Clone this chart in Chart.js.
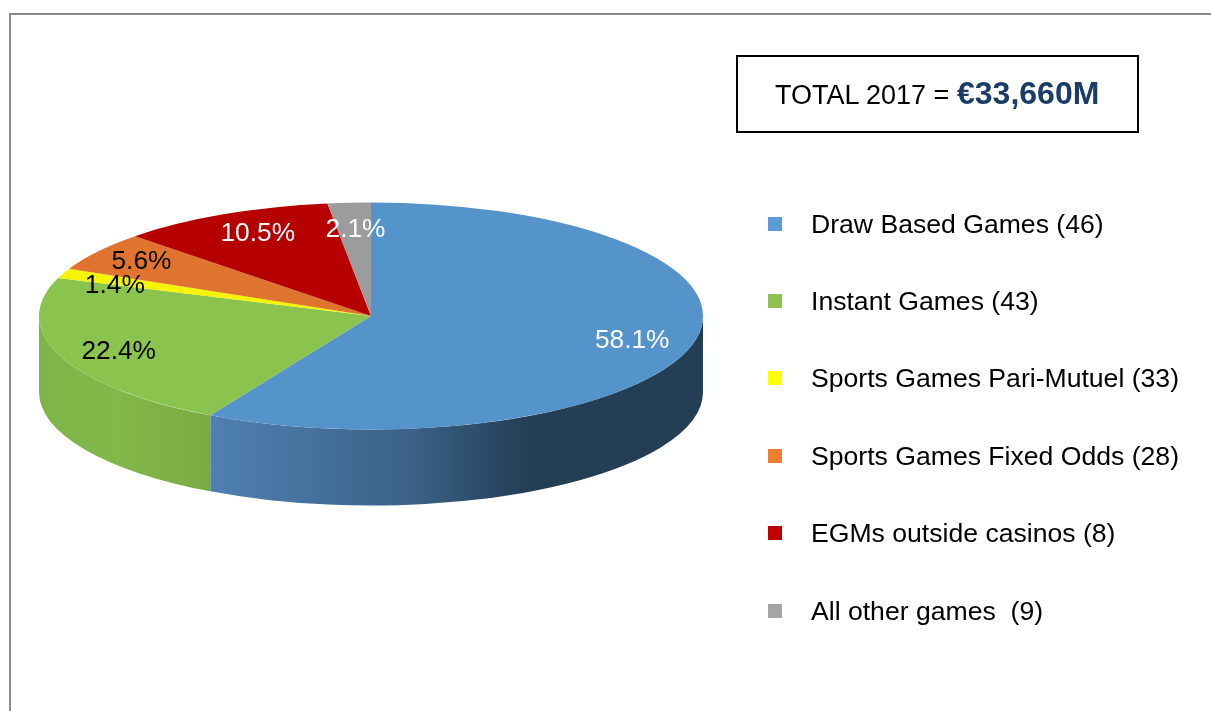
<!DOCTYPE html>
<html>
<head>
<meta charset="utf-8">
<title>Total 2017</title>
<script src="https://cdn.jsdelivr.net/npm/chart.js@4"></script>
<style>
  html, body { margin: 0; padding: 0; background: #fff; overflow: hidden; }
  body { width: 1211px; height: 711px; position: relative; font-family: "Liberation Sans", Arial, sans-serif; color: #000; }
  #chart { position: absolute; left: 0; top: 0; }
  #frame { position: absolute; left: 9px; top: 13px; width: 1300px; height: 800px; border: 2px solid #8a8a8a; }
  #total { position: absolute; left: 736px; top: 55px; width: 399px; height: 74px; border: 2px solid #000; line-height: 74px; white-space: pre; }
  #total span { position: absolute; }
  #total .sum { left: 37px; top: 1px; font-size: 27px; }
  #total .amount { left: 219px; top: -1px; font-size: 32px; font-weight: bold; color: #1a3c66; }
  .row { position: absolute; left: 768px; height: 30px; line-height: 30px; font-size: 26.6px; white-space: pre; }
  .row i { position: absolute; left: 0; top: 8px; width: 14px; height: 14px; }
  .row span { position: absolute; left: 43px; }
</style>
</head>
<body>
<div id="frame"></div>
<canvas id="chart" width="1211" height="711"></canvas>
<div id="total"><span class="sum">TOTAL 2017 =</span><span class="amount">€33,660M</span></div>
<div id="legend"></div>
<script>
let categories = [
  "Draw Based Games (46)",
  "Instant Games (43)",
  "Sports Games Pari-Mutuel (33)",
  "Sports Games Fixed Odds (28)",
  "EGMs outside casinos (8)",
  "All other games  (9)",
];
let shares = [58.1, 22.4, 1.4, 5.6, 10.5, 2.1];

let faceColors = ["#5593cb", "#8ac44f", "#f5f500", "#e0742f", "#b60000", "#9c9c9c"];
let legendColors = ["#5b9bd5", "#8cc34f", "#ffff00", "#ed7d31", "#c00000", "#a5a5a5"];
let labelColors = ["#fff", "#000", "#000", "#000", "#fff", "#fff"];
let legendRows = [224, 301, 378, 456, 533, 611];

// hand placement of the percent labels, like the original chart has
let labelNudgeX = [4, -4, -10, -11, 5, 2];
let labelNudgeY = [1, 3, 3, -4, -2, 3];

// side wall shading, only the two front slices show it
let wallStops = [
  [[0.2545, "#4f80b2"], [0.55, "#3c6389"], [0.74, "#233e55"], [1, "#233e55"]],
  [[0, "#7eb548"], [0.12, "#83b84a"], [0.2545, "#79ab42"]],
];

const squash = 0.342;
const depth = 76;
const centerY = 316;

function tilt(ctx, el) {
  ctx.translate(0, centerY);
  ctx.scale(1, squash);
  ctx.translate(0, -el.y);
}

const tiltedPie = {
  id: "tiltedPie",
  beforeDatasetsDraw(chart) {
    const ctx = chart.ctx;
    const arcs = chart.getDatasetMeta(0).data;
    ctx.save();
    tilt(ctx, arcs[0]);
    arcs.forEach((el, i) => {
      const from = Math.max(el.startAngle, 0);
      const to = Math.min(el.endAngle, Math.PI);
      if (from >= to || !wallStops[i]) return;
      const R = el.outerRadius;
      const grad = ctx.createLinearGradient(el.x - R, 0, el.x + R, 0);
      wallStops[i].forEach((s) => grad.addColorStop(s[0], s[1]));
      ctx.beginPath();
      ctx.arc(el.x, el.y, R, from, to);
      ctx.arc(el.x, el.y + depth / squash, R, to, from, true);
      ctx.closePath();
      ctx.fillStyle = grad;
      ctx.fill();
    });
  },
  afterDatasetsDraw(chart) {
    const ctx = chart.ctx;
    ctx.restore();
    const arcs = chart.getDatasetMeta(0).data;
    ctx.save();
    ctx.font = '26.3px "Liberation Sans", Arial, sans-serif';
    ctx.textAlign = "center";
    ctx.textBaseline = "middle";
    arcs.forEach((el, i) => {
      const mid = (el.startAngle + el.endAngle) / 2;
      const r = el.outerRadius * 0.8;
      ctx.fillStyle = labelColors[i];
      ctx.fillText(
        shares[i].toFixed(1) + "%",
        el.x + Math.cos(mid) * r + labelNudgeX[i],
        centerY + Math.sin(mid) * r * squash + 1 + labelNudgeY[i]
      );
    });
    ctx.restore();
  },
};

new Chart(document.getElementById("chart"), {
  type: "pie",
  data: {
    labels: categories,
    datasets: [
      {
        data: shares,
        backgroundColor: faceColors,
        borderWidth: 0,
        radius: 332,
        clip: false,
      },
    ],
  },
  options: {
    responsive: false,
    animation: false,
    layout: { padding: { left: 39, right: 508, top: 0, bottom: 47 } },
    plugins: {
      legend: { display: false },
      tooltip: { enabled: false },
    },
  },
  plugins: [tiltedPie],
});

const legendBox = document.getElementById("legend");
categories.forEach((name, i) => {
  const row = document.createElement("div");
  row.className = "row";
  row.style.top = legendRows[i] - 15 + "px";
  const swatch = document.createElement("i");
  swatch.style.background = legendColors[i];
  const text = document.createElement("span");
  text.textContent = name;
  row.append(swatch, text);
  legendBox.append(row);
});
</script>
</body>
</html>
